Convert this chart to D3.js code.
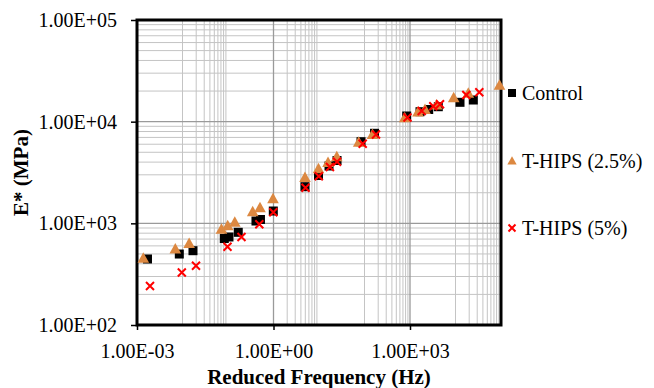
<!DOCTYPE html>
<html>
<head>
<meta charset="utf-8">
<script src="https://cdn.jsdelivr.net/npm/d3@7"></script>
<style>
  body { margin: 0; background: #fff; }
  svg text { font-family: "Liberation Serif", "DejaVu Serif", serif; }
</style>
</head>
<body>
<div id="chart"></div>
<script>
// tick values
const xTicks = [1e-3, 1e0, 1e3];
const yTicks = [1e2, 1e3, 1e4, 1e5];

// series (reduced frequency in Hz, E* in MPa)
const controlFreq = [1.70e-3, 8.51e-3, 1.70e-2, 8.29e-2, 0.105, 0.168, 0.412, 0.517, 0.99, 4.92, 9.75, 16.6, 24.9, 83.8, 166, 846, 1659, 2577, 4188, 12560, 24620];
const controlE    = [446, 499, 538, 709, 734, 816, 1054, 1091, 1322, 2293, 2954, 3664, 4150, 6353, 7686, 11370, 12530, 13170, 14030, 15500, 16330];

const hips25Freq = [1.375e-3, 6.95e-3, 1.40e-2, 7.19e-2, 0.0985, 0.141, 0.349, 0.505, 0.975, 4.92, 9.75, 15.8, 24.6, 74.6, 150, 765, 1499, 2137, 3864, 9128, 19110, 92720];
const hips25E    = [453, 559, 633, 874, 946, 1024, 1299, 1425, 1743, 2824, 3446, 3966, 4523, 6281, 7476, 10940, 12450, 13170, 14590, 17210, 19010, 22780];

const hips5Freq = [1.93e-3, 9.66e-3, 1.98e-2, 9.75e-2, 0.198, 0.488, 0.99, 5.05, 9.9, 17.4, 24.9, 91.3, 179, 881, 1808, 3251, 4563, 17270, 33370];
const hips5E    = [242, 328, 383, 589, 734, 980, 1287, 2241, 2901, 3581, 4038, 6071, 7476, 10990, 12730, 14190, 14850, 18290, 19450];

const seriesNames = ["Control", "T-HIPS (2.5%)", "T-HIPS (5%)"];

const W = 654, H = 388;
const margin = { top: 20, right: 153, bottom: 63, left: 137 };
const width = W - margin.left - margin.right,
      height = H - margin.top - margin.bottom;
const serif = "'Liberation Serif', 'DejaVu Serif', serif";

const svg = d3.select("#chart").append("svg")
    .attr("width", W)
    .attr("height", H);

svg.append("rect").attr("width", W).attr("height", H).attr("fill", "#fff");

const x = d3.scaleLog().domain([1e-3, 1e5]).range([0, width]);
const y = d3.scaleLog().domain([1e2, 1e5]).range([height, 0]);

const g = svg.append("g")
    .attr("transform", "translate(" + margin.left + "," + margin.top + ")");

// minor gridlines (x: every other decade, like the excel base-1000 axis)
let xMinor = [];
[-2, 0, 2, 4].forEach(n => {
    for (let k = 1; k <= 9; k++) xMinor.push(k * Math.pow(10, n));
});
xMinor = xMinor.filter(v => v > 1e-3 && v < 1e5 && !xTicks.includes(v));
let yMinor = [];
[2, 3, 4].forEach(n => {
    for (let k = 2; k <= 9; k++) yMinor.push(k * Math.pow(10, n));
});

g.append("g").selectAll("line").data(xMinor).enter().append("line")
    .attr("x1", d => x(d)).attr("x2", d => x(d))
    .attr("y1", 0).attr("y2", height)
    .attr("stroke", "#c4c4c4").attr("stroke-width", 1);
g.append("g").selectAll("line").data(yMinor).enter().append("line")
    .attr("y1", d => y(d)).attr("y2", d => y(d))
    .attr("x1", 0).attr("x2", width)
    .attr("stroke", "#c4c4c4").attr("stroke-width", 1);

// major gridlines
g.append("g").selectAll("line").data(xTicks).enter().append("line")
    .attr("x1", d => x(d)).attr("x2", d => x(d))
    .attr("y1", 0).attr("y2", height)
    .attr("stroke", "#9a9a9a").attr("stroke-width", 1.3);
g.append("g").selectAll("line").data(yTicks).enter().append("line")
    .attr("y1", d => y(d)).attr("y2", d => y(d))
    .attr("x1", 0).attr("x2", width)
    .attr("stroke", "#9a9a9a").attr("stroke-width", 1.3);

const fmtE = v => {
    const e = Math.round(Math.log10(v));
    const m = v / Math.pow(10, e);
    return m.toFixed(2) + "E" + (e < 0 ? "-" : "+") + String(Math.abs(e)).padStart(2, "0");
};

// axes
const xAxis = g.append("g")
    .attr("transform", "translate(0," + height + ")")
    .call(d3.axisBottom(x).tickValues(xTicks).tickSize(5).tickPadding(14).tickFormat(fmtE));
const yAxis = g.append("g")
    .call(d3.axisLeft(y).tickValues(yTicks).tickSize(6).tickPadding(14).tickFormat(fmtE));

[xAxis, yAxis].forEach(a => {
    a.attr("font-family", serif);
    a.select(".domain").remove();
    a.selectAll(".tick line").attr("stroke", "#000").attr("stroke-width", 1.5);
    a.selectAll("text")
        .attr("font-size", "20px")
        .attr("fill", "#000");
});
xAxis.selectAll("text").attr("dy", "0.7em");

// plot area border
g.append("rect")
    .attr("x", 0).attr("y", 0)
    .attr("width", width).attr("height", height)
    .attr("fill", "none")
    .attr("stroke", "#000")
    .attr("stroke-width", 3);

// markers
const orange = "#dc8841";
const sym = {
    square: (sel, s) => sel.append("rect")
        .attr("x", -s / 2).attr("y", -s / 2).attr("width", s).attr("height", s)
        .attr("fill", "#000"),
    triangle: (sel, s) => sel.append("path")
        .attr("d", `M0,${-s * 0.6}L${s * 0.58},${s * 0.45}L${-s * 0.58},${s * 0.45}Z`)
        .attr("fill", orange),
    cross: (sel, s) => sel.append("path")
        .attr("d", `M${-s / 2},${-s / 2}L${s / 2},${s / 2}M${-s / 2},${s / 2}L${s / 2},${-s / 2}`)
        .attr("stroke", "#ff0000").attr("stroke-width", 2).attr("fill", "none")
};

const series = [
    { freq: controlFreq, E: controlE, shape: "square", size: 9 },
    { freq: hips25Freq, E: hips25E, shape: "triangle", size: 10 },
    { freq: hips5Freq, E: hips5E, shape: "cross", size: 8 }
];

series.forEach(s => {
    const pts = s.freq.map((f, i) => ({ f: f, e: s.E[i] }));
    g.append("g").selectAll("g").data(pts).enter().append("g")
        .attr("transform", d => "translate(" + x(d.f) + "," + y(d.e) + ")")
        .each(function () { sym[s.shape](d3.select(this), s.size); });
});

// legend
const legendY = [93, 161, 228];
const legend = svg.append("g");
series.forEach((s, i) => {
    const m = legend.append("g").attr("transform", "translate(512," + legendY[i] + ")");
    sym[s.shape](m, s.shape === "cross" ? 7 : 8);
    legend.append("text")
        .attr("x", 522).attr("y", legendY[i])
        .attr("dy", "0.35em")
        .attr("font-family", serif)
        .attr("font-size", "20px")
        .attr("fill", "#000")
        .text(seriesNames[i]);
});

// axis titles
svg.append("text")
    .attr("x", margin.left + width / 2)
    .attr("y", 384)
    .attr("text-anchor", "middle")
    .attr("font-family", serif)
    .attr("font-size", "21px")
    .attr("font-weight", "bold")
    .text("Reduced Frequency (Hz)");

svg.append("text")
    .attr("transform", "translate(28," + (margin.top + height / 2) + ") rotate(-90)")
    .attr("text-anchor", "middle")
    .attr("font-family", serif)
    .attr("font-size", "21px")
    .attr("font-weight", "bold")
    .text("E* (MPa)");
</script>
</body>
</html>
